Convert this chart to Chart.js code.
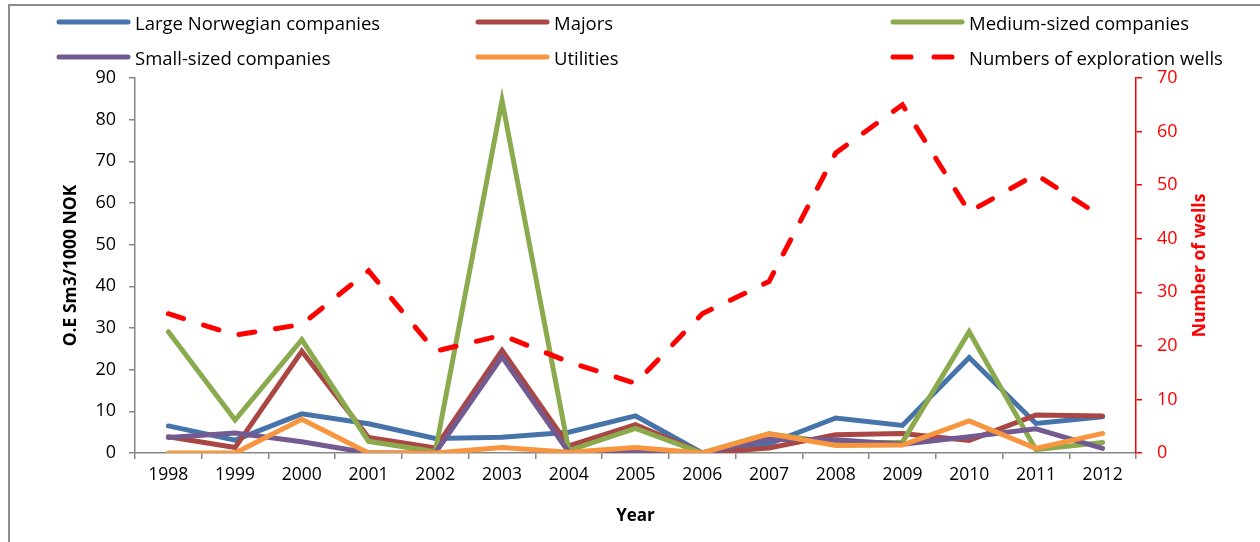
<!DOCTYPE html>
<html>
<head>
<meta charset="utf-8">
<script src="https://cdn.jsdelivr.net/npm/chart.js@4"></script>
<style>
  html, body { margin: 0; padding: 0; background: #fff; }
  body { width: 1260px; height: 542px; position: relative; overflow: hidden; font-family: "Open Sans", sans-serif; }
  #frame { position: absolute; left: 8px; top: 4px; width: 1300px; height: 600px; border: 2px solid #8c8c8c; box-sizing: border-box; }
  #wrap { position: absolute; left: 0; top: 0; width: 1260px; height: 542px; }
  #legend { position: absolute; left: 0; top: 0; width: 1260px; height: 75px; }
  .item { position: absolute; height: 24px; display: flex; align-items: center; font-size: 18.5px; color: #000; white-space: nowrap; }
  .item canvas { display: block; margin-right: 3px; }
</style>
</head>
<body>
<div id="frame"></div>
<div id="wrap"><canvas id="chart" width="1260" height="542"></canvas></div>
<div id="legend"></div>
<script>
// Years on the category axis
const years = ['1998','1999','2000','2001','2002','2003','2004','2005','2006','2007','2008','2009','2010','2011','2012'];

// O.E Sm3 per 1000 NOK, by company group
const largeNorwegian = [6.5, 3.1, 9.4, 7.0, 3.5, 3.8, 5.0, 8.9, 0, 2.2, 8.4, 6.6, 22.9, 7.1, 8.7];
const majors         = [3.9, 1.3, 24.4, 3.7, 1.2, 24.6, 1.7, 6.8, 0, 1.2, 4.4, 4.7, 3.0, 9.1, 8.9];
const mediumSized    = [29.1, 7.9, 27.2, 2.8, 0.3, 84.6, 0.6, 5.9, 0, 4.6, 2.4, 2.6, 29.1, 0.8, 2.5];
const smallSized     = [3.7, 4.8, 2.7, 0, 0, 23.1, 0.2, 0.2, 0, 3.3, 3.2, 2.1, 3.9, 5.8, 1.1];
const utilities      = [0, 0, 8.1, 0, 0, 1.3, 0.2, 1.3, 0, 4.6, 1.8, 1.9, 7.7, 1.1, 4.7];

// Exploration wells per year (right axis)
const explorationWells = [26, 22, 24, 34, 19, 22, 17, 13, 26, 32, 56, 65, 45, 52, 44];

// Axis ranges
const leftTicks = { min: 0, max: 90, step: 10 };
const rightTicks = { min: 0, max: 70, step: 10 };

const axisGrey = '#868686';
const font = 'Open Sans';
const rightTitle = 'Number of wells';

function series(label, data, color, order, extra) {
  return Object.assign({
    label, data, borderColor: color, backgroundColor: color,
    borderWidth: 5, pointRadius: 0, pointHoverRadius: 0, tension: 0,
    fill: false, yAxisID: 'y', order, borderCapStyle: 'round', borderJoinStyle: 'miter'
  }, extra || {});
}

const datasets = [
  series('Large Norwegian companies', largeNorwegian, '#4673AA', 6),
  series('Majors', majors, '#AA4643', 5),
  series('Medium-sized companies', mediumSized, '#8BA94D', 4),
  series('Small-sized companies', smallSized, '#735A91', 3),
  series('Utilities', utilities, '#F7963F', 2),
  series('Numbers of exploration wells', explorationWells, '#FF0000', 1,
         { yAxisID: 'y1', borderDash: [16, 21] })
];

// Right-hand axis title, drawn reading bottom-to-top like the left one
const rightTitlePlugin = {
  id: 'rightTitle',
  afterDraw(chart) {
    const { ctx, chartArea } = chart;
    ctx.save();
    ctx.translate(1200, (chartArea.top + chartArea.bottom) / 2);
    ctx.rotate(-Math.PI / 2);
    ctx.font = 'bold 17.5px "' + font + '"';
    ctx.fillStyle = '#FF0000';
    ctx.textAlign = 'center';
    ctx.textBaseline = 'middle';
    ctx.fillText(rightTitle, 0, 0);
    ctx.restore();
  }
};

const chart = new Chart(document.getElementById('chart'), {
  type: 'line',
  data: { labels: years, datasets },
  plugins: [rightTitlePlugin],
  options: {
    responsive: false,
    animation: false,
    events: [],
    layout: { padding: { top: 78, left: 0, right: 0, bottom: 0 } },
    plugins: { legend: { display: false }, tooltip: { enabled: false } },
    scales: {
      x: {
        type: 'category',
        offset: true,
        grid: { offset: true, drawOnChartArea: false, drawTicks: true, tickLength: 6, color: axisGrey, lineWidth: 1.5 },
        border: { color: axisGrey, width: 1.5 },
        ticks: { color: '#000', font: { family: font, size: 17.5 }, padding: 6, maxRotation: 0, autoSkip: false },
        title: { display: true, text: 'Year', color: '#000', font: { family: font, size: 17, weight: 'bold' }, padding: { top: 0, bottom: 16 } },
        afterFit(scale) { scale.height = 89; }
      },
      y: {
        position: 'left',
        min: leftTicks.min, max: leftTicks.max,
        grid: { drawOnChartArea: false, drawTicks: true, tickLength: 6, color: axisGrey, lineWidth: 1.5 },
        border: { color: axisGrey, width: 1.5 },
        ticks: { stepSize: leftTicks.step, color: '#000', font: { family: font, size: 18 }, padding: 13 },
        title: { display: true, text: 'O.E Sm3/1000 NOK', color: '#000', font: { family: font, size: 17.5, weight: 'bold' }, padding: { top: 61, bottom: 0 } },
        afterFit(scale) { scale.width = 135; }
      },
      y1: {
        position: 'right',
        min: rightTicks.min, max: rightTicks.max,
        grid: { drawOnChartArea: false, drawTicks: true, tickLength: 6, color: '#FF0000', lineWidth: 1.5 },
        border: { color: '#FF0000', width: 1.5 },
        ticks: { stepSize: rightTicks.step, color: '#FF0000', font: { family: font, size: 18 }, padding: 15 },
        afterFit(scale) { scale.width = 124; }
      }
    }
  }
});

// Legend laid out in three columns, two rows, built from the datasets
const legendSlots = [
  { left: 54, top: 10 }, { left: 473, top: 10 }, { left: 888, top: 10 },
  { left: 54, top: 45 }, { left: 473, top: 45 }, { left: 888, top: 45 }
];
const legendEl = document.getElementById('legend');
chart.data.datasets.forEach((ds, i) => {
  const item = document.createElement('div');
  item.className = 'item';
  item.style.left = legendSlots[i].left + 'px';
  item.style.top = legendSlots[i].top + 'px';
  const swatch = document.createElement('canvas');
  swatch.width = 78; swatch.height = 12;
  const c = swatch.getContext('2d');
  c.strokeStyle = ds.borderColor;
  c.lineWidth = 5;
  c.lineCap = 'round';
  if (ds.borderDash) c.setLineDash([18, 23]);
  c.beginPath(); c.moveTo(5, 6); c.lineTo(74, 6); c.stroke();
  const text = document.createElement('span');
  text.textContent = ds.label;
  item.appendChild(swatch);
  item.appendChild(text);
  legendEl.appendChild(item);
});
</script>
</body>
</html>
